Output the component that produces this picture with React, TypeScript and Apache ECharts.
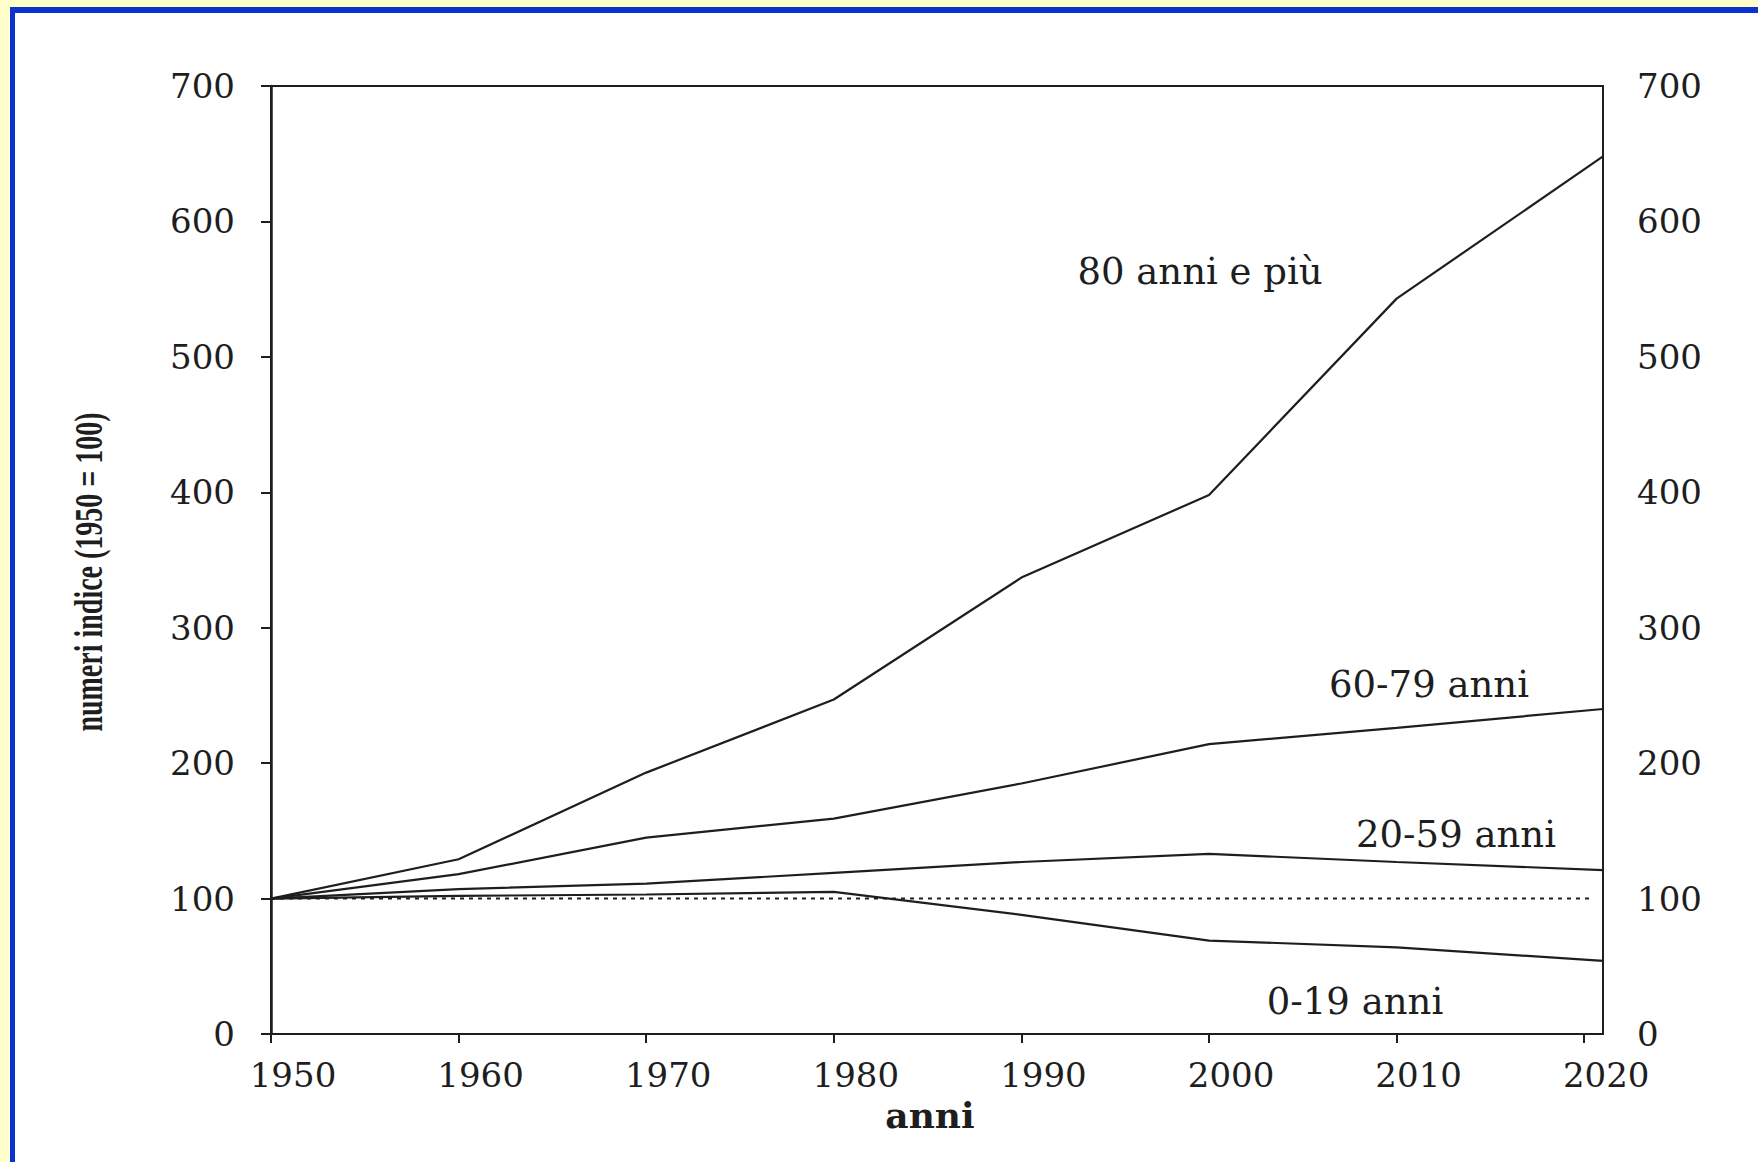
import React, { useEffect, useRef } from "react";
import * as echarts from "echarts";

const years = [1950, 1960, 1970, 1980, 1990, 2000, 2010, 2021];
const tickYears = [1950, 1960, 1970, 1980, 1990, 2000, 2010, 2020];
const age80plus = [100, 129, 193, 247, 337, 398, 543, 648];
const age60to79 = [100, 118, 145, 159, 185, 214, 226, 240];
const age20to59 = [100, 107, 111, 119, 127, 133, 127, 121];
const age0to19 = [100, 102, 103, 105, 88, 69, 64, 54];
const baseline = [100, 100];
const baselineYears = [1950, 2020.5];
const yTicks = [0, 100, 200, 300, 400, 500, 600, 700];
const seriesNames = ["80 anni e più", "60-79 anni", "20-59 anni", "0-19 anni"];

const INK = "#1e1e1e";
const SERIF = "DejaVu Serif";

export default function App() {
  const ref = useRef<HTMLDivElement>(null);

  useEffect(() => {
    document.body.style.margin = "0";
    const chart = echarts.init(ref.current!, undefined, { renderer: "svg" });
    const pair = (vals: number[], xs: number[]) => vals.map((v, i) => [xs[i], v]);
    const lineSeries = (name: string, vals: number[]) => ({
      name,
      type: "line",
      data: pair(vals, years),
      symbol: "none",
      lineStyle: { color: INK, width: 2.2 },
      z: 3,
    });
    const tickLabel = { fontFamily: SERIF, fontSize: 34, color: INK };
    const label = (text: string, x: number, y: number) => ({
      type: "text",
      x,
      y,
      style: { text, fontFamily: SERIF, fontSize: 37, fill: INK, align: "center", verticalAlign: "middle" },
    });

    chart.setOption({
      animation: false,
      backgroundColor: "#ffffff",
      grid: {
        show: true,
        left: 271,
        right: 155,
        top: 86,
        bottom: 128,
        borderColor: INK,
        borderWidth: 2,
        backgroundColor: "transparent",
      },
      xAxis: {
        type: "value",
        min: 1950,
        max: 2021,
        interval: 10,
        axisLine: { show: true, lineStyle: { color: INK, width: 2 } },
        axisTick: { show: true, length: 9, lineStyle: { color: INK, width: 2 }, customValues: tickYears },
        axisLabel: {
          ...tickLabel,
          margin: 24,
          padding: [0, 0, 0, 44],
          customValues: tickYears,
          formatter: (v: number) => String(Math.round(v)),
        },
        splitLine: { show: false },
      },
      yAxis: [
        {
          type: "value",
          min: 0,
          max: 700,
          interval: 100,
          position: "left",
          axisLine: { show: true, lineStyle: { color: INK, width: 2.5 } },
          axisTick: { show: true, length: 10, lineStyle: { color: INK, width: 2 } },
          axisLabel: { ...tickLabel, margin: 36, customValues: yTicks },
          splitLine: { show: false },
        },
        {
          type: "value",
          min: 0,
          max: 700,
          interval: 100,
          position: "right",
          axisLine: { show: false },
          axisTick: { show: false },
          axisLabel: { ...tickLabel, margin: 34, customValues: yTicks },
          splitLine: { show: false },
        },
      ],
      series: [
        lineSeries(seriesNames[0], age80plus),
        lineSeries(seriesNames[1], age60to79),
        lineSeries(seriesNames[2], age20to59),
        lineSeries(seriesNames[3], age0to19),
        {
          name: "base",
          type: "line",
          data: pair(baseline, baselineYears),
          symbol: "none",
          lineStyle: { color: INK, width: 2, type: [4, 5] },
          z: 2,
        },
      ],
      graphic: [
        { type: "rect", shape: { x: 0, y: 0, width: 1758, height: 7 }, style: { fill: "#FFFFCC" }, silent: true },
        { type: "rect", shape: { x: 0, y: 0, width: 10, height: 1162 }, style: { fill: "#FFFFCC" }, silent: true },
        { type: "rect", shape: { x: 10, y: 7, width: 1748, height: 6 }, style: { fill: "#0A33CC" }, silent: true },
        { type: "rect", shape: { x: 10, y: 7, width: 5, height: 1155 }, style: { fill: "#0A33CC" }, silent: true },
        {
          type: "text",
          x: 88,
          y: 572,
          rotation: Math.PI / 2,
          scaleX: 0.7,
          style: {
            text: "numeri indice (1950 = 100)",
            fontFamily: "Liberation Serif",
            fontWeight: "bold",
            fontSize: 40,
            fill: INK,
            align: "center",
            verticalAlign: "middle",
          },
        },
        {
          type: "text",
          x: 930,
          y: 1115,
          style: { text: "anni", fontFamily: SERIF, fontWeight: "bold", fontSize: 36, fill: INK, align: "center", verticalAlign: "middle" },
        },
        label(seriesNames[0], 1200, 271),
        label(seriesNames[1], 1429, 684),
        label(seriesNames[2], 1456, 834),
        label(seriesNames[3], 1355, 1001),
      ],
    });
    return () => chart.dispose();
  }, []);

  return <div ref={ref} style={{ width: 1758, height: 1162 }} />;
}
